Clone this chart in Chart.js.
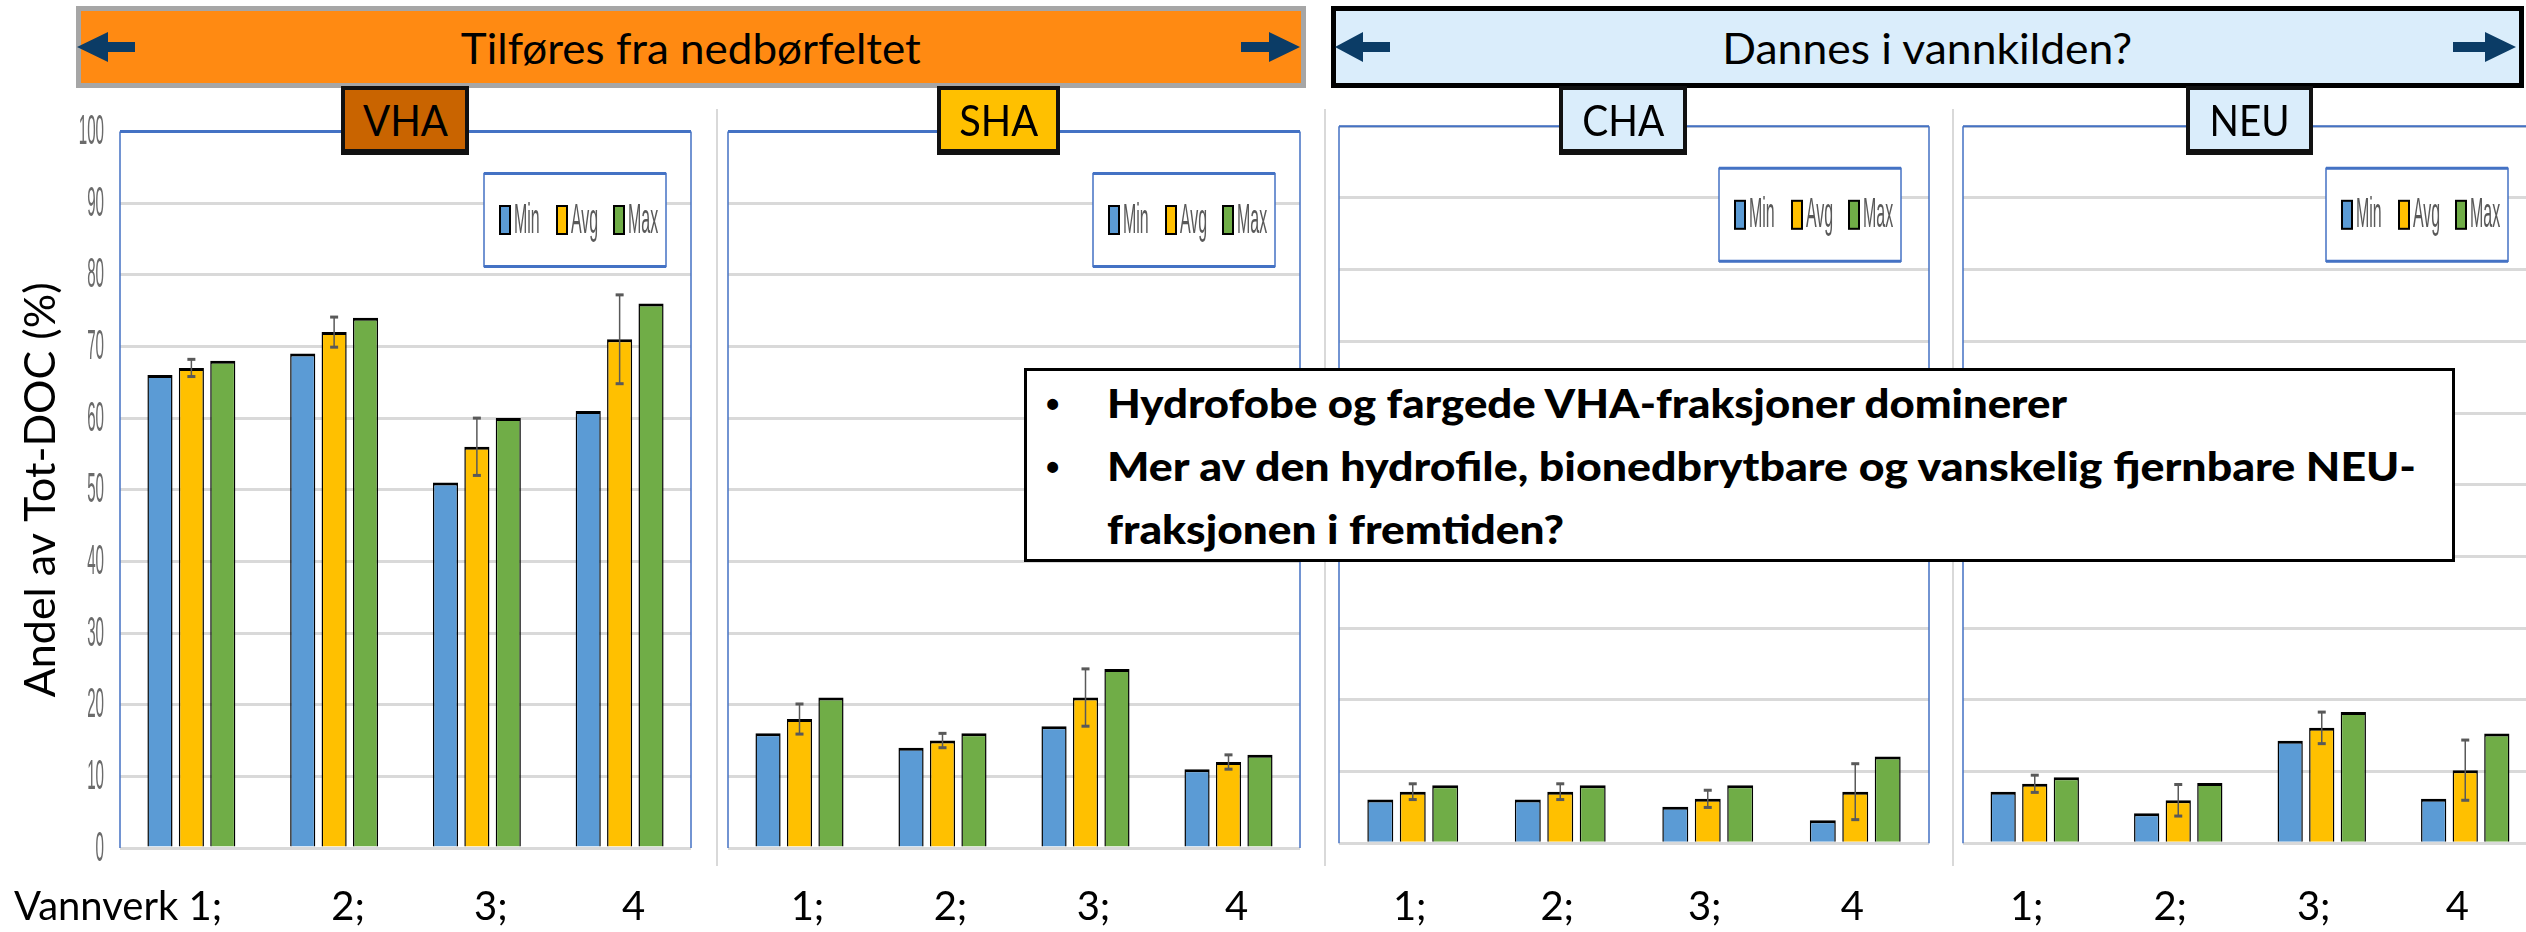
<!DOCTYPE html>
<html>
<head>
<meta charset="utf-8">
<script src="https://cdn.jsdelivr.net/npm/chart.js@4.4.1/dist/chart.umd.min.js"></script>
<style>
  html, body { margin: 0; padding: 0; background: #fff; width: 2526px; height: 932px; overflow: hidden; position: relative; font-family: Lato, sans-serif; }
  canvas { position: absolute; }
  .sep { position: absolute; top: 109px; width: 2px; height: 757px; background: #d9d9d9; }
  .banner { position: absolute; top: 6px; height: 82px; box-sizing: border-box; display: flex; align-items: center; justify-content: center; font-size: 43px; color: #000; white-space: nowrap; }
  .tab { position: absolute; top: 86px; height: 69px; box-sizing: border-box; border: 4px solid #111; border-bottom-width: 6px; display: flex; align-items: center; justify-content: center; font-size: 42px; color: #000; white-space: nowrap; }
  .fit { display: inline-block; transform-origin: center center; }
  #note { position: absolute; left: 1024px; top: 368px; width: 1431px; height: 194px; box-sizing: border-box; border: 3px solid #000; background: #fff; }
  .line { position: absolute; font-size: 39px; line-height: 39px; font-weight: 900; white-space: nowrap; color: #000; transform-origin: left center; }
  .bullet { position: absolute; font-family: "Liberation Sans", sans-serif; font-size: 38px; line-height: 38px; font-weight: 700; }
</style>
</head>
<body>
<canvas id="c1" width="700" height="832" style="left:0px;top:100px"></canvas>
<canvas id="c2" width="610" height="832" style="left:705px;top:100px"></canvas>
<canvas id="c3" width="610" height="832" style="left:1330px;top:100px"></canvas>
<canvas id="c4" width="592" height="832" style="left:1955px;top:100px"></canvas>

<div class="sep" style="left:716px"></div>
<div class="sep" style="left:1324px"></div>
<div class="sep" style="left:1952px"></div>

<div class="banner" style="left:76px;width:1230px;background:#FF8A12;border:5px solid #A6A6A6">
  <span class="fit" data-w="460">Tilføres fra nedbørfeltet</span>
</div>
<div class="banner" style="left:1331px;width:1193px;background:#DAEDFB;border:5px solid #000">
  <span class="fit" data-w="410">Dannes i vannkilden?</span>
</div>

<svg style="position:absolute;left:0;top:0" width="2526" height="932">
  <g fill="#0B3C66">
    <polygon points="77,47 108,32 108,42 135,42 135,52 108,52 108,62"/>
    <polygon points="1300,47 1269,32 1269,42 1241,42 1241,52 1269,52 1269,62"/>
    <polygon points="1335,47 1363,32 1363,42 1390,42 1390,52 1363,52 1363,62"/>
    <polygon points="2516,47 2485,32 2485,42 2453,42 2453,52 2485,52 2485,62"/>
  </g>
</svg>

<div class="tab" style="left:341px;width:128px;background:#C96400"><span class="fit" data-w="85">VHA</span></div>
<div class="tab" style="left:937px;width:123px;background:#FFC000"><span class="fit" data-w="79">SHA</span></div>
<div class="tab" style="left:1559px;width:128px;background:#DAEDFB"><span class="fit" data-w="82">CHA</span></div>
<div class="tab" style="left:2186px;width:127px;background:#DAEDFB"><span class="fit" data-w="80">NEU</span></div>

<div id="note"></div>
<div class="bullet" style="left:1046px;top:385px">•</div>
<div class="line" style="left:1107px;top:384px" data-w="960">Hydrofobe og fargede VHA-fraksjoner dominerer</div>
<div class="bullet" style="left:1046px;top:448px">•</div>
<div class="line" style="left:1107px;top:447px" data-w="1309">Mer av den hydrofile, bionedbrytbare og vanskelig fjernbare NEU-</div>
<div class="line" style="left:1107px;top:510px" data-w="457">fraksjonen i fremtiden?</div>

<script>
// kategorier og serier
const labelsFirst = ['Vannverk 1;', '2;', '3;', '4'];
const labelsRest  = ['1;', '2;', '3;', '4'];
const seriesNames  = ['Min', 'Avg', 'Max'];
const seriesColors = ['#5B9BD5', '#FFC000', '#70AD47'];

// andel av Tot-DOC (%) per fraksjon, vannverk 1-4
const vhaMin = [66, 69, 51, 61];
const vhaAvg = [67, 72, 56, 71];
const vhaMax = [68, 74, 60, 76];
const vhaSd  = [1.2, 2.1, 4, 6.2];

const shaMin = [16, 14, 17, 11];
const shaAvg = [18, 15, 21, 12];
const shaMax = [21, 16, 25, 13];
const shaSd  = [2.1, 1, 4, 1];

const chaMin = [6.1, 6.1, 5.1, 3.2];
const chaAvg = [7.2, 7.2, 6.2, 7.2];
const chaMax = [8.1, 8.1, 8.1, 12.1];
const chaSd  = [1.1, 1.1, 1.2, 3.9];

const neuMin = [7.2, 4.2, 14.3, 6.2];
const neuAvg = [8.3, 6.0, 16.1, 10.2];
const neuMax = [9.2, 8.4, 18.3, 15.3];
const neuSd  = [1.2, 2.2, 2.2, 4.2];

// feilstolper, ramme, legende og aksetekster
const panelDeco = {
  id: 'panelDeco',
  afterDatasetsDraw(chart, args, o) {
    const ctx = chart.ctx, y = chart.scales.y;
    const avg = chart.data.datasets[1].data;
    ctx.save();
    ctx.strokeStyle = '#595959';
    ctx.fillStyle = '#595959';
    ctx.lineWidth = 1.5;
    chart.getDatasetMeta(1).data.forEach((bar, i) => {
      const hi = y.getPixelForValue(avg[i] + o.sd[i]);
      const lo = y.getPixelForValue(avg[i] - o.sd[i]);
      ctx.beginPath(); ctx.moveTo(bar.x, hi); ctx.lineTo(bar.x, lo); ctx.stroke();
      ctx.fillRect(bar.x - 4, hi - 1.5, 8, 3);
      ctx.fillRect(bar.x - 4, lo - 1.5, 8, 3);
    });
    ctx.restore();
  },
  afterDraw(chart, args, o) {
    const { ctx, chartArea: a } = chart;
    ctx.save();

    // plot-ramme
    ctx.strokeStyle = '#4472C4';
    ctx.lineWidth = 1.5;
    ctx.beginPath();
    ctx.moveTo(a.left, a.bottom); ctx.lineTo(a.left, a.top);
    ctx.moveTo(a.right, a.top); ctx.lineTo(a.right, a.bottom);
    ctx.stroke();
    ctx.lineWidth = o.topWidth;
    ctx.beginPath(); ctx.moveTo(a.left, a.top); ctx.lineTo(a.right, a.top); ctx.stroke();

    // legende-boks
    const bw = 182, bh = 93;
    const bx = a.right - o.legendRight - bw, by = a.top + 42;
    ctx.fillStyle = '#fff';
    ctx.fillRect(bx, by, bw, bh);
    ctx.strokeStyle = '#4472C4';
    ctx.lineWidth = 1.5;
    ctx.strokeRect(bx, by, bw, bh);
    ctx.lineWidth = 3;
    ctx.beginPath();
    ctx.moveTo(bx, by); ctx.lineTo(bx + bw, by);
    ctx.moveTo(bx, by + bh); ctx.lineTo(bx + bw, by + bh);
    ctx.stroke();
    ctx.font = '42px "Liberation Sans"';
    ctx.textBaseline = 'middle';
    ctx.textAlign = 'left';
    chart.data.datasets.forEach((ds, i) => {
      const sx = bx + 16 + i * 57, cy = by + bh / 2;
      ctx.fillStyle = ds.backgroundColor;
      ctx.fillRect(sx, cy - 14, 10, 28);
      ctx.strokeStyle = '#000';
      ctx.lineWidth = 2;
      ctx.strokeRect(sx, cy - 14, 10, 28);
      ctx.fillStyle = '#595959';
      ctx.save();
      ctx.translate(sx + 14, cy + 1);
      ctx.scale(0.38, 1);
      ctx.fillText(ds.label, 0, 0);
      ctx.restore();
    });

    // y-verdier (smal skrift)
    if (o.yLabels) {
      const y = chart.scales.y;
      ctx.fillStyle = '#6b6b6b';
      ctx.textAlign = 'right';
      y.ticks.forEach(t => {
        ctx.save();
        ctx.translate(a.left - 16, y.getPixelForValue(t.value) + 1);
        ctx.scale(0.36, 1);
        ctx.fillText(String(t.value), 0, 0);
        ctx.restore();
      });
    }

    // kategorietiketter
    const x = chart.scales.x;
    ctx.font = '40px Lato';
    ctx.fillStyle = '#000';
    ctx.textBaseline = 'alphabetic';
    chart.data.labels.forEach((lab, i) => {
      const px = x.getPixelForTick(i) + o.labelShift, py = chart.height - 12;
      const parts = lab.split(' ');
      const last = parts.pop();
      ctx.textAlign = 'center';
      ctx.fillText(last, px, py);
      if (parts.length) {
        ctx.textAlign = 'right';
        ctx.fillText(parts.join(' ') + ' ', px - ctx.measureText(last).width / 2, py);
      }
    });
    ctx.restore();
  }
};

function makePanel(id, labels, min, avg, max, sd, p) {
  const datasets = [min, avg, max].map((d, i) => ({
    label: seriesNames[i],
    data: d,
    backgroundColor: seriesColors[i],
    borderColor: '#000',
    borderWidth: { top: 3, left: 1.5, right: 1.5, bottom: 0 },
    barPercentage: 0.8,
    categoryPercentage: 0.66,
  }));
  return new Chart(document.getElementById(id), {
    type: 'bar',
    data: { labels, datasets },
    options: {
      responsive: false,
      animation: false,
      layout: { padding: { top: p.top, left: p.left, right: p.right, bottom: 0 } },
      plugins: {
        legend: { display: false },
        tooltip: { enabled: false },
        panelDeco: { sd, yLabels: p.yLabels, topWidth: p.topWidth, legendRight: p.legendRight, labelShift: p.labelShift },
      },
      scales: {
        x: {
          grid: { display: false },
          border: { display: false },
          ticks: { display: false },
          afterFit: s => { s.height = p.xHeight; },
        },
        y: {
          min: 0,
          max: 100,
          ticks: { display: false, stepSize: 10 },
          grid: { color: '#d9d9d9', lineWidth: 3, drawTicks: false },
          border: { display: false },
          title: {
            display: !!p.title,
            text: p.title || '',
            color: '#000',
            font: { family: 'Lato', size: 43 },
            padding: { top: 15, bottom: 0 },
          },
          afterFit: s => { s.width = p.yWidth; },
        },
      },
    },
    plugins: [panelDeco],
  });
}

makePanel('c1', labelsFirst, vhaMin, vhaAvg, vhaMax, vhaSd,
  { top: 31.5, left: 0, right: 9, xHeight: 84, yWidth: 120, yLabels: true, topWidth: 3, legendRight: 25,
    labelShift: 14, title: 'Andel av Tot-DOC (%)' });
makePanel('c2', labelsRest, shaMin, shaAvg, shaMax, shaSd,
  { top: 31.5, left: 23, right: 15, xHeight: 84, yWidth: 0, yLabels: false, topWidth: 3, legendRight: 25, labelShift: 8 });
makePanel('c3', labelsRest, chaMin, chaAvg, chaMax, chaSd,
  { top: 26.3, left: 9, right: 11, xHeight: 88.7, yWidth: 0, yLabels: false, topWidth: 2, legendRight: 28, labelShift: -3 });
makePanel('c4', labelsRest, neuMin, neuAvg, neuMax, neuSd,
  { top: 26.3, left: 8, right: 10, xHeight: 88.7, yWidth: 0, yLabels: false, topWidth: 2, legendRight: 29, labelShift: -8 });

// tilpass tekstbredder til forlaget
function fitText() {
  document.querySelectorAll('[data-w]').forEach(el => {
    el.style.transform = 'none';
    const w = el.getBoundingClientRect().width;
    el.style.transform = 'scaleX(' + (+el.dataset.w / w).toFixed(4) + ')';
  });
}
fitText();
if (document.fonts && document.fonts.ready) document.fonts.ready.then(fitText);
</script>
</body>
</html>
